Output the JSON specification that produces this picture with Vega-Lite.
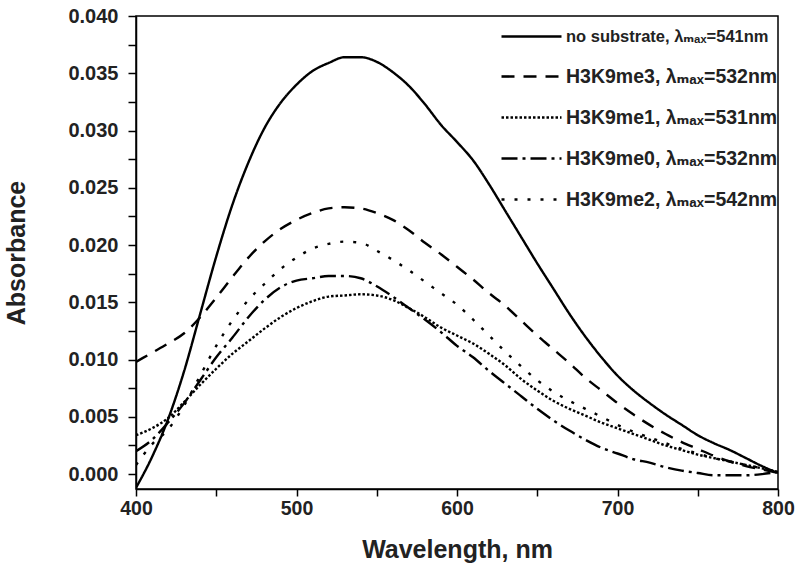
{
  "$schema": "https://vega.github.io/schema/vega-lite/v6.json",
  "width": 642,
  "height": 473,
  "autosize": {"type": "none"},
  "padding": {"left": 136, "top": 16, "right": 22, "bottom": 87},
  "background": "white",
  "config": {
    "view": {"stroke": "black", "strokeWidth": 1.5},
    "font": "Liberation Sans",
    "axis": {"domainColor": "black", "tickColor": "black", "labelColor": "#222", "titleColor": "#222", "labelFont": "Liberation Sans", "titleFont": "Liberation Sans", "labelFontWeight": "bold", "titleFontWeight": "bold", "grid": false, "domainWidth": 1.5, "tickWidth": 1.5}
  },
  "data": {"values": [
    {"s": "no substrate, λₘₐₓ=541nm", "wl": 400, "a": -0.0012},
    {"s": "no substrate, λₘₐₓ=541nm", "wl": 410, "a": 0.0015},
    {"s": "no substrate, λₘₐₓ=541nm", "wl": 420, "a": 0.0048},
    {"s": "no substrate, λₘₐₓ=541nm", "wl": 430, "a": 0.0090},
    {"s": "no substrate, λₘₐₓ=541nm", "wl": 440, "a": 0.0140},
    {"s": "no substrate, λₘₐₓ=541nm", "wl": 450, "a": 0.0190},
    {"s": "no substrate, λₘₐₓ=541nm", "wl": 460, "a": 0.0235},
    {"s": "no substrate, λₘₐₓ=541nm", "wl": 470, "a": 0.0272},
    {"s": "no substrate, λₘₐₓ=541nm", "wl": 480, "a": 0.0302},
    {"s": "no substrate, λₘₐₓ=541nm", "wl": 490, "a": 0.0324},
    {"s": "no substrate, λₘₐₓ=541nm", "wl": 500, "a": 0.0340},
    {"s": "no substrate, λₘₐₓ=541nm", "wl": 510, "a": 0.0352},
    {"s": "no substrate, λₘₐₓ=541nm", "wl": 520, "a": 0.0359},
    {"s": "no substrate, λₘₐₓ=541nm", "wl": 530, "a": 0.0364},
    {"s": "no substrate, λₘₐₓ=541nm", "wl": 540, "a": 0.0364},
    {"s": "no substrate, λₘₐₓ=541nm", "wl": 550, "a": 0.0360},
    {"s": "no substrate, λₘₐₓ=541nm", "wl": 560, "a": 0.0351},
    {"s": "no substrate, λₘₐₓ=541nm", "wl": 570, "a": 0.0339},
    {"s": "no substrate, λₘₐₓ=541nm", "wl": 580, "a": 0.0323},
    {"s": "no substrate, λₘₐₓ=541nm", "wl": 590, "a": 0.0305},
    {"s": "no substrate, λₘₐₓ=541nm", "wl": 600, "a": 0.0290},
    {"s": "no substrate, λₘₐₓ=541nm", "wl": 610, "a": 0.0274},
    {"s": "no substrate, λₘₐₓ=541nm", "wl": 620, "a": 0.0253},
    {"s": "no substrate, λₘₐₓ=541nm", "wl": 630, "a": 0.0230},
    {"s": "no substrate, λₘₐₓ=541nm", "wl": 640, "a": 0.0207},
    {"s": "no substrate, λₘₐₓ=541nm", "wl": 650, "a": 0.0184},
    {"s": "no substrate, λₘₐₓ=541nm", "wl": 660, "a": 0.0162},
    {"s": "no substrate, λₘₐₓ=541nm", "wl": 670, "a": 0.0140},
    {"s": "no substrate, λₘₐₓ=541nm", "wl": 680, "a": 0.0120},
    {"s": "no substrate, λₘₐₓ=541nm", "wl": 690, "a": 0.0102},
    {"s": "no substrate, λₘₐₓ=541nm", "wl": 700, "a": 0.0086},
    {"s": "no substrate, λₘₐₓ=541nm", "wl": 710, "a": 0.0073},
    {"s": "no substrate, λₘₐₓ=541nm", "wl": 720, "a": 0.0062},
    {"s": "no substrate, λₘₐₓ=541nm", "wl": 730, "a": 0.0052},
    {"s": "no substrate, λₘₐₓ=541nm", "wl": 740, "a": 0.0043},
    {"s": "no substrate, λₘₐₓ=541nm", "wl": 750, "a": 0.0034},
    {"s": "no substrate, λₘₐₓ=541nm", "wl": 760, "a": 0.0027},
    {"s": "no substrate, λₘₐₓ=541nm", "wl": 770, "a": 0.0021},
    {"s": "no substrate, λₘₐₓ=541nm", "wl": 780, "a": 0.0014},
    {"s": "no substrate, λₘₐₓ=541nm", "wl": 790, "a": 0.0007},
    {"s": "no substrate, λₘₐₓ=541nm", "wl": 800, "a": 0.0001},

    {"s": "H3K9me3, λₘₐₓ=532nm", "wl": 400, "a": 0.0098},
    {"s": "H3K9me3, λₘₐₓ=532nm", "wl": 410, "a": 0.0106},
    {"s": "H3K9me3, λₘₐₓ=532nm", "wl": 420, "a": 0.0114},
    {"s": "H3K9me3, λₘₐₓ=532nm", "wl": 430, "a": 0.0123},
    {"s": "H3K9me3, λₘₐₓ=532nm", "wl": 440, "a": 0.0137},
    {"s": "H3K9me3, λₘₐₓ=532nm", "wl": 450, "a": 0.0154},
    {"s": "H3K9me3, λₘₐₓ=532nm", "wl": 460, "a": 0.0172},
    {"s": "H3K9me3, λₘₐₓ=532nm", "wl": 470, "a": 0.0189},
    {"s": "H3K9me3, λₘₐₓ=532nm", "wl": 480, "a": 0.0203},
    {"s": "H3K9me3, λₘₐₓ=532nm", "wl": 490, "a": 0.0214},
    {"s": "H3K9me3, λₘₐₓ=532nm", "wl": 500, "a": 0.0222},
    {"s": "H3K9me3, λₘₐₓ=532nm", "wl": 510, "a": 0.0228},
    {"s": "H3K9me3, λₘₐₓ=532nm", "wl": 520, "a": 0.0232},
    {"s": "H3K9me3, λₘₐₓ=532nm", "wl": 530, "a": 0.0233},
    {"s": "H3K9me3, λₘₐₓ=532nm", "wl": 540, "a": 0.0232},
    {"s": "H3K9me3, λₘₐₓ=532nm", "wl": 550, "a": 0.0228},
    {"s": "H3K9me3, λₘₐₓ=532nm", "wl": 560, "a": 0.0222},
    {"s": "H3K9me3, λₘₐₓ=532nm", "wl": 570, "a": 0.0213},
    {"s": "H3K9me3, λₘₐₓ=532nm", "wl": 580, "a": 0.0202},
    {"s": "H3K9me3, λₘₐₓ=532nm", "wl": 590, "a": 0.0192},
    {"s": "H3K9me3, λₘₐₓ=532nm", "wl": 600, "a": 0.0181},
    {"s": "H3K9me3, λₘₐₓ=532nm", "wl": 610, "a": 0.0170},
    {"s": "H3K9me3, λₘₐₓ=532nm", "wl": 620, "a": 0.0158},
    {"s": "H3K9me3, λₘₐₓ=532nm", "wl": 630, "a": 0.0147},
    {"s": "H3K9me3, λₘₐₓ=532nm", "wl": 640, "a": 0.0134},
    {"s": "H3K9me3, λₘₐₓ=532nm", "wl": 650, "a": 0.0121},
    {"s": "H3K9me3, λₘₐₓ=532nm", "wl": 660, "a": 0.0109},
    {"s": "H3K9me3, λₘₐₓ=532nm", "wl": 670, "a": 0.0097},
    {"s": "H3K9me3, λₘₐₓ=532nm", "wl": 680, "a": 0.0084},
    {"s": "H3K9me3, λₘₐₓ=532nm", "wl": 690, "a": 0.0073},
    {"s": "H3K9me3, λₘₐₓ=532nm", "wl": 700, "a": 0.0062},
    {"s": "H3K9me3, λₘₐₓ=532nm", "wl": 710, "a": 0.0052},
    {"s": "H3K9me3, λₘₐₓ=532nm", "wl": 720, "a": 0.0043},
    {"s": "H3K9me3, λₘₐₓ=532nm", "wl": 730, "a": 0.0035},
    {"s": "H3K9me3, λₘₐₓ=532nm", "wl": 740, "a": 0.0028},
    {"s": "H3K9me3, λₘₐₓ=532nm", "wl": 750, "a": 0.0022},
    {"s": "H3K9me3, λₘₐₓ=532nm", "wl": 760, "a": 0.0016},
    {"s": "H3K9me3, λₘₐₓ=532nm", "wl": 770, "a": 0.0011},
    {"s": "H3K9me3, λₘₐₓ=532nm", "wl": 780, "a": 0.0007},
    {"s": "H3K9me3, λₘₐₓ=532nm", "wl": 790, "a": 0.0004},
    {"s": "H3K9me3, λₘₐₓ=532nm", "wl": 800, "a": 0.0001},

    {"s": "H3K9me1, λₘₐₓ=531nm", "wl": 400, "a": 0.0034},
    {"s": "H3K9me1, λₘₐₓ=531nm", "wl": 410, "a": 0.0040},
    {"s": "H3K9me1, λₘₐₓ=531nm", "wl": 420, "a": 0.0049},
    {"s": "H3K9me1, λₘₐₓ=531nm", "wl": 430, "a": 0.0063},
    {"s": "H3K9me1, λₘₐₓ=531nm", "wl": 440, "a": 0.0078},
    {"s": "H3K9me1, λₘₐₓ=531nm", "wl": 450, "a": 0.0092},
    {"s": "H3K9me1, λₘₐₓ=531nm", "wl": 460, "a": 0.0105},
    {"s": "H3K9me1, λₘₐₓ=531nm", "wl": 470, "a": 0.0116},
    {"s": "H3K9me1, λₘₐₓ=531nm", "wl": 480, "a": 0.0127},
    {"s": "H3K9me1, λₘₐₓ=531nm", "wl": 490, "a": 0.0137},
    {"s": "H3K9me1, λₘₐₓ=531nm", "wl": 500, "a": 0.0145},
    {"s": "H3K9me1, λₘₐₓ=531nm", "wl": 510, "a": 0.0151},
    {"s": "H3K9me1, λₘₐₓ=531nm", "wl": 520, "a": 0.0155},
    {"s": "H3K9me1, λₘₐₓ=531nm", "wl": 530, "a": 0.0156},
    {"s": "H3K9me1, λₘₐₓ=531nm", "wl": 540, "a": 0.0157},
    {"s": "H3K9me1, λₘₐₓ=531nm", "wl": 550, "a": 0.0156},
    {"s": "H3K9me1, λₘₐₓ=531nm", "wl": 560, "a": 0.0152},
    {"s": "H3K9me1, λₘₐₓ=531nm", "wl": 570, "a": 0.0145},
    {"s": "H3K9me1, λₘₐₓ=531nm", "wl": 580, "a": 0.0137},
    {"s": "H3K9me1, λₘₐₓ=531nm", "wl": 590, "a": 0.0128},
    {"s": "H3K9me1, λₘₐₓ=531nm", "wl": 600, "a": 0.0121},
    {"s": "H3K9me1, λₘₐₓ=531nm", "wl": 610, "a": 0.0114},
    {"s": "H3K9me1, λₘₐₓ=531nm", "wl": 620, "a": 0.0105},
    {"s": "H3K9me1, λₘₐₓ=531nm", "wl": 630, "a": 0.0095},
    {"s": "H3K9me1, λₘₐₓ=531nm", "wl": 640, "a": 0.0083},
    {"s": "H3K9me1, λₘₐₓ=531nm", "wl": 650, "a": 0.0073},
    {"s": "H3K9me1, λₘₐₓ=531nm", "wl": 660, "a": 0.0064},
    {"s": "H3K9me1, λₘₐₓ=531nm", "wl": 670, "a": 0.0057},
    {"s": "H3K9me1, λₘₐₓ=531nm", "wl": 680, "a": 0.0051},
    {"s": "H3K9me1, λₘₐₓ=531nm", "wl": 690, "a": 0.0045},
    {"s": "H3K9me1, λₘₐₓ=531nm", "wl": 700, "a": 0.0040},
    {"s": "H3K9me1, λₘₐₓ=531nm", "wl": 710, "a": 0.0035},
    {"s": "H3K9me1, λₘₐₓ=531nm", "wl": 720, "a": 0.0030},
    {"s": "H3K9me1, λₘₐₓ=531nm", "wl": 730, "a": 0.0025},
    {"s": "H3K9me1, λₘₐₓ=531nm", "wl": 740, "a": 0.0021},
    {"s": "H3K9me1, λₘₐₓ=531nm", "wl": 750, "a": 0.0017},
    {"s": "H3K9me1, λₘₐₓ=531nm", "wl": 760, "a": 0.0014},
    {"s": "H3K9me1, λₘₐₓ=531nm", "wl": 770, "a": 0.0011},
    {"s": "H3K9me1, λₘₐₓ=531nm", "wl": 780, "a": 0.0008},
    {"s": "H3K9me1, λₘₐₓ=531nm", "wl": 790, "a": 0.0005},
    {"s": "H3K9me1, λₘₐₓ=531nm", "wl": 800, "a": 0.0002},

    {"s": "H3K9me0, λₘₐₓ=532nm", "wl": 400, "a": 0.0020},
    {"s": "H3K9me0, λₘₐₓ=532nm", "wl": 410, "a": 0.0030},
    {"s": "H3K9me0, λₘₐₓ=532nm", "wl": 420, "a": 0.0045},
    {"s": "H3K9me0, λₘₐₓ=532nm", "wl": 430, "a": 0.0062},
    {"s": "H3K9me0, λₘₐₓ=532nm", "wl": 440, "a": 0.0082},
    {"s": "H3K9me0, λₘₐₓ=532nm", "wl": 450, "a": 0.0102},
    {"s": "H3K9me0, λₘₐₓ=532nm", "wl": 460, "a": 0.0119},
    {"s": "H3K9me0, λₘₐₓ=532nm", "wl": 470, "a": 0.0137},
    {"s": "H3K9me0, λₘₐₓ=532nm", "wl": 480, "a": 0.0152},
    {"s": "H3K9me0, λₘₐₓ=532nm", "wl": 490, "a": 0.0163},
    {"s": "H3K9me0, λₘₐₓ=532nm", "wl": 500, "a": 0.0169},
    {"s": "H3K9me0, λₘₐₓ=532nm", "wl": 510, "a": 0.0171},
    {"s": "H3K9me0, λₘₐₓ=532nm", "wl": 520, "a": 0.0173},
    {"s": "H3K9me0, λₘₐₓ=532nm", "wl": 530, "a": 0.0173},
    {"s": "H3K9me0, λₘₐₓ=532nm", "wl": 540, "a": 0.0171},
    {"s": "H3K9me0, λₘₐₓ=532nm", "wl": 550, "a": 0.0164},
    {"s": "H3K9me0, λₘₐₓ=532nm", "wl": 560, "a": 0.0155},
    {"s": "H3K9me0, λₘₐₓ=532nm", "wl": 570, "a": 0.0145},
    {"s": "H3K9me0, λₘₐₓ=532nm", "wl": 580, "a": 0.0135},
    {"s": "H3K9me0, λₘₐₓ=532nm", "wl": 590, "a": 0.0124},
    {"s": "H3K9me0, λₘₐₓ=532nm", "wl": 600, "a": 0.0112},
    {"s": "H3K9me0, λₘₐₓ=532nm", "wl": 610, "a": 0.0102},
    {"s": "H3K9me0, λₘₐₓ=532nm", "wl": 620, "a": 0.0090},
    {"s": "H3K9me0, λₘₐₓ=532nm", "wl": 630, "a": 0.0079},
    {"s": "H3K9me0, λₘₐₓ=532nm", "wl": 640, "a": 0.0068},
    {"s": "H3K9me0, λₘₐₓ=532nm", "wl": 650, "a": 0.0057},
    {"s": "H3K9me0, λₘₐₓ=532nm", "wl": 660, "a": 0.0047},
    {"s": "H3K9me0, λₘₐₓ=532nm", "wl": 670, "a": 0.0038},
    {"s": "H3K9me0, λₘₐₓ=532nm", "wl": 680, "a": 0.0030},
    {"s": "H3K9me0, λₘₐₓ=532nm", "wl": 690, "a": 0.0023},
    {"s": "H3K9me0, λₘₐₓ=532nm", "wl": 700, "a": 0.0018},
    {"s": "H3K9me0, λₘₐₓ=532nm", "wl": 710, "a": 0.0013},
    {"s": "H3K9me0, λₘₐₓ=532nm", "wl": 720, "a": 0.0010},
    {"s": "H3K9me0, λₘₐₓ=532nm", "wl": 730, "a": 0.0006},
    {"s": "H3K9me0, λₘₐₓ=532nm", "wl": 740, "a": 0.0003},
    {"s": "H3K9me0, λₘₐₓ=532nm", "wl": 750, "a": 0.0001},
    {"s": "H3K9me0, λₘₐₓ=532nm", "wl": 760, "a": -0.0001},
    {"s": "H3K9me0, λₘₐₓ=532nm", "wl": 770, "a": -0.0001},
    {"s": "H3K9me0, λₘₐₓ=532nm", "wl": 780, "a": -0.0001},
    {"s": "H3K9me0, λₘₐₓ=532nm", "wl": 790, "a": 0.0000},
    {"s": "H3K9me0, λₘₐₓ=532nm", "wl": 800, "a": 0.0002},

    {"s": "H3K9me2, λₘₐₓ=542nm", "wl": 400, "a": 0.0008},
    {"s": "H3K9me2, λₘₐₓ=542nm", "wl": 410, "a": 0.0026},
    {"s": "H3K9me2, λₘₐₓ=542nm", "wl": 420, "a": 0.0039},
    {"s": "H3K9me2, λₘₐₓ=542nm", "wl": 430, "a": 0.0060},
    {"s": "H3K9me2, λₘₐₓ=542nm", "wl": 440, "a": 0.0086},
    {"s": "H3K9me2, λₘₐₓ=542nm", "wl": 450, "a": 0.0112},
    {"s": "H3K9me2, λₘₐₓ=542nm", "wl": 460, "a": 0.0134},
    {"s": "H3K9me2, λₘₐₓ=542nm", "wl": 470, "a": 0.0152},
    {"s": "H3K9me2, λₘₐₓ=542nm", "wl": 480, "a": 0.0166},
    {"s": "H3K9me2, λₘₐₓ=542nm", "wl": 490, "a": 0.0179},
    {"s": "H3K9me2, λₘₐₓ=542nm", "wl": 500, "a": 0.0189},
    {"s": "H3K9me2, λₘₐₓ=542nm", "wl": 510, "a": 0.0197},
    {"s": "H3K9me2, λₘₐₓ=542nm", "wl": 520, "a": 0.0201},
    {"s": "H3K9me2, λₘₐₓ=542nm", "wl": 530, "a": 0.0203},
    {"s": "H3K9me2, λₘₐₓ=542nm", "wl": 540, "a": 0.0202},
    {"s": "H3K9me2, λₘₐₓ=542nm", "wl": 550, "a": 0.0195},
    {"s": "H3K9me2, λₘₐₓ=542nm", "wl": 560, "a": 0.0187},
    {"s": "H3K9me2, λₘₐₓ=542nm", "wl": 570, "a": 0.0178},
    {"s": "H3K9me2, λₘₐₓ=542nm", "wl": 580, "a": 0.0168},
    {"s": "H3K9me2, λₘₐₓ=542nm", "wl": 590, "a": 0.0158},
    {"s": "H3K9me2, λₘₐₓ=542nm", "wl": 600, "a": 0.0148},
    {"s": "H3K9me2, λₘₐₓ=542nm", "wl": 610, "a": 0.0135},
    {"s": "H3K9me2, λₘₐₓ=542nm", "wl": 620, "a": 0.0121},
    {"s": "H3K9me2, λₘₐₓ=542nm", "wl": 630, "a": 0.0107},
    {"s": "H3K9me2, λₘₐₓ=542nm", "wl": 640, "a": 0.0094},
    {"s": "H3K9me2, λₘₐₓ=542nm", "wl": 650, "a": 0.0082},
    {"s": "H3K9me2, λₘₐₓ=542nm", "wl": 660, "a": 0.0072},
    {"s": "H3K9me2, λₘₐₓ=542nm", "wl": 670, "a": 0.0064},
    {"s": "H3K9me2, λₘₐₓ=542nm", "wl": 680, "a": 0.0057},
    {"s": "H3K9me2, λₘₐₓ=542nm", "wl": 690, "a": 0.0050},
    {"s": "H3K9me2, λₘₐₓ=542nm", "wl": 700, "a": 0.0043},
    {"s": "H3K9me2, λₘₐₓ=542nm", "wl": 710, "a": 0.0037},
    {"s": "H3K9me2, λₘₐₓ=542nm", "wl": 720, "a": 0.0032},
    {"s": "H3K9me2, λₘₐₓ=542nm", "wl": 730, "a": 0.0027},
    {"s": "H3K9me2, λₘₐₓ=542nm", "wl": 740, "a": 0.0022},
    {"s": "H3K9me2, λₘₐₓ=542nm", "wl": 750, "a": 0.0018},
    {"s": "H3K9me2, λₘₐₓ=542nm", "wl": 760, "a": 0.0014},
    {"s": "H3K9me2, λₘₐₓ=542nm", "wl": 770, "a": 0.0011},
    {"s": "H3K9me2, λₘₐₓ=542nm", "wl": 780, "a": 0.0008},
    {"s": "H3K9me2, λₘₐₓ=542nm", "wl": 790, "a": 0.0005},
    {"s": "H3K9me2, λₘₐₓ=542nm", "wl": 800, "a": 0.0002}
  ]},
  "mark": {"type": "line", "color": "black", "strokeWidth": 2.4, "interpolate": "monotone", "clip": true},
  "encoding": {
    "x": {"field": "wl", "type": "quantitative",
      "scale": {"domain": [400, 800], "nice": false, "zero": false},
      "axis": {"title": "Wavelength, nm", "values": [400, 450, 500, 550, 600, 650, 700, 750, 800],
        "labelExpr": "datum.value % 100 == 0 ? datum.label : ''",
        "labelFontSize": 19.5, "titleFontSize": 25, "tickSize": 7, "labelPadding": 3, "titlePadding": 20, "labelFlush": false}},
    "y": {"field": "a", "type": "quantitative",
      "scale": {"domain": [-0.0013, 0.040], "nice": false, "zero": false},
      "axis": {"title": "Absorbance", "values": [0, 0.0025, 0.005, 0.0075, 0.01, 0.0125, 0.015, 0.0175, 0.02, 0.0225, 0.025, 0.0275, 0.03, 0.0325, 0.035, 0.0375, 0.04],
        "labelExpr": "abs(round(datum.value * 400)) % 2 == 0 ? format(datum.value, '.3f') : ''",
        "labelFontSize": 20, "titleFontSize": 25, "tickSize": 8, "labelPadding": 10, "titlePadding": 38}},
    "strokeDash": {"field": "s", "type": "nominal",
      "scale": {"domain": ["no substrate, λₘₐₓ=541nm", "H3K9me3, λₘₐₓ=532nm", "H3K9me1, λₘₐₓ=531nm", "H3K9me0, λₘₐₓ=532nm", "H3K9me2, λₘₐₓ=542nm"],
        "range": [[1, 0], [13, 9], [2.5, 2], [16, 5, 3, 5], [3, 10]]},
      "legend": {"title": null, "orient": "none", "legendX": 364, "legendY": -11, "symbolType": "stroke", "symbolSize": 3600, "symbolStrokeWidth": 2.6, "symbolStrokeColor": "black",
        "labelFont": "Liberation Sans, DejaVu Sans", "labelFontWeight": "bold", "labelFontSize": 19.5, "labelColor": "#222", "labelLimit": 400, "rowPadding": -8, "labelOffset": 3, "padding": 0,
        "encode": {"labels": {"update": {"fontSize": {"signal": "datum.index === 0 ? 16.5 : 19.5"}}}}}}
  }
}
